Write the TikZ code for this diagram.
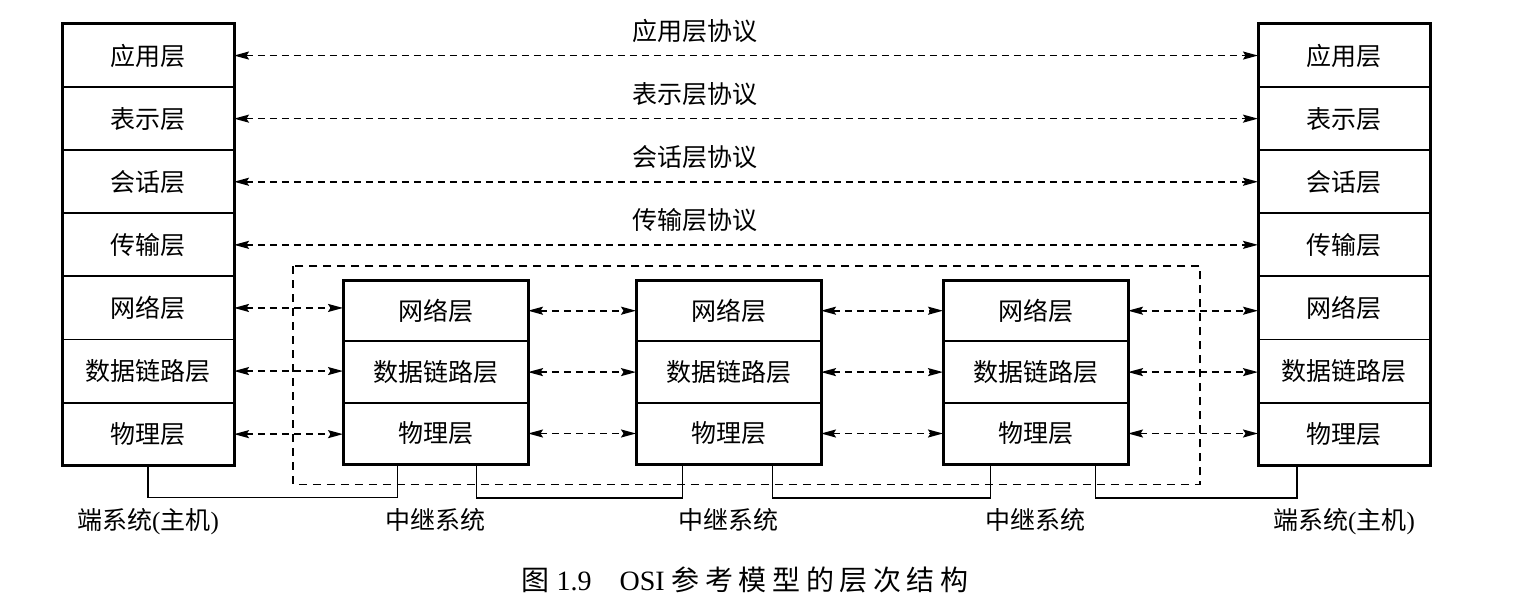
\documentclass[tikz,border=0pt]{standalone}
\usepackage{fontspec}
\setmainfont{Liberation Serif}
\newfontfamily\cjk{Noto Sans CJK SC}
\newfontfamily\cjkcap[LetterSpace=20]{Noto Sans CJK SC}
\usepackage{tikz}
\usetikzlibrary{positioning}
\usetikzlibrary{arrows.meta}
\tikzset{
  host layer/.style={draw,line width=1.9pt,outer sep=0pt,inner sep=0pt,
    minimum width=172pt,minimum height=63.1pt,font=\cjk\fontsize{25}{25}\selectfont},
  relay layer/.style={host layer,minimum width=185pt,minimum height=61.4pt},
  proto/.style={inner sep=0pt,font=\cjk\fontsize{25}{25}\selectfont},
  sysname/.style={inner sep=0pt,font=\fontsize{25}{25}\selectfont}
}
\begin{document}
\begin{tikzpicture}[x=1pt,y=-1pt,>={Stealth[length=15pt,width=8pt,inset=2.5pt]},
    peer/.style={<->,line width=1.7pt,dash pattern=on 7pt off 5pt},
    wire/.style={line width=1.5pt}
    ]
    \useasboundingbox (0,0) rectangle (1515,615);
    % end system on the left
    \node [host layer,anchor=north west] (L1) at (62,24) {应用层};
    \node [host layer,below=0pt of L1] (L2) {表示层};
    \node [host layer,below=0pt of L2] (L3) {会话层};
    \node [host layer,below=0pt of L3] (L4) {传输层};
    \node [host layer,below=0pt of L4] (L5) {网络层};
    \node [host layer,below=0pt of L5] (L6) {数据链路层};
    \node [host layer,below=0pt of L6] (L7) {物理层};
    \draw [line width=3pt] (L1.north west) rectangle (L7.south east);
    % end system on the right
    \node [host layer,anchor=north west] (R1) at (1258,24) {应用层};
    \node [host layer,below=0pt of R1] (R2) {表示层};
    \node [host layer,below=0pt of R2] (R3) {会话层};
    \node [host layer,below=0pt of R3] (R4) {传输层};
    \node [host layer,below=0pt of R4] (R5) {网络层};
    \node [host layer,below=0pt of R5] (R6) {数据链路层};
    \node [host layer,below=0pt of R6] (R7) {物理层};
    \draw [line width=3pt] (R1.north west) rectangle (R7.south east);
    % relay systems
    \node [relay layer,anchor=north west] (A1) at (343,280) {网络层};
    \node [relay layer,below=0pt of A1] (A2) {数据链路层};
    \node [relay layer,below=0pt of A2] (A3) {物理层};
    \draw [line width=3pt] (A1.north west) rectangle (A3.south east);
    \node [relay layer,anchor=north west] (B1) at (636,280) {网络层};
    \node [relay layer,below=0pt of B1] (B2) {数据链路层};
    \node [relay layer,below=0pt of B2] (B3) {物理层};
    \draw [line width=3pt] (B1.north west) rectangle (B3.south east);
    \node [relay layer,anchor=north west] (C1) at (943,280) {网络层};
    \node [relay layer,below=0pt of C1] (C2) {数据链路层};
    \node [relay layer,below=0pt of C2] (C3) {物理层};
    \draw [line width=3pt] (C1.north west) rectangle (C3.south east);
    \draw [line width=1.4pt,dash pattern=on 8pt off 6pt]
      ([shift={(-50pt,14pt)}]A1.north west) rectangle ([shift={(72pt,-20pt)}]C3.south east);
    % peer protocols
    \draw [peer] (L1.east) -- (R1.west) node [proto,pos=0.45,above=12pt] (P1) {应用层协议};
    \draw [peer] (L2.east) -- (R2.west) node [proto,pos=0.45,above=12pt] (P2) {表示层协议};
    \draw [peer] (L3.east) -- (R3.west) node [proto,pos=0.45,above=12pt] (P3) {会话层协议};
    \draw [peer] (L4.east) -- (R4.west) node [proto,pos=0.45,above=12pt] (P4) {传输层协议};
    \draw [peer] (L5.east) -- (L5.east -| A1.west);
    \draw [peer] (L6.east) -- (L6.east -| A2.west);
    \draw [peer] (L7.east) -- (L7.east -| A3.west);
    \draw [peer] (A1.east) -- (A1.east -| B1.west);
    \draw [peer] (A2.east) -- (A2.east -| B2.west);
    \draw [peer] (A3.east) -- (A3.east -| B3.west);
    \draw [peer] (B1.east) -- (B1.east -| C1.west);
    \draw [peer] (B2.east) -- (B2.east -| C2.west);
    \draw [peer] (B3.east) -- (B3.east -| C3.west);
    \draw [peer] (C1.east) -- (C1.east -| R5.west);
    \draw [peer] (C2.east) -- (C2.east -| R6.west);
    \draw [peer] (C3.east) -- (C3.east -| R7.west);
    % physical links
    \draw [wire] (L7.south) -- ++(0,32) -| ([xshift=-38pt]A3.south);
    \draw [wire] ([xshift=41pt]A3.south) -- ++(0,34) -| ([xshift=-46pt]B3.south);
    \draw [wire] ([xshift=44pt]B3.south) -- ++(0,34) -| ([xshift=-45pt]C3.south);
    \draw [wire] ([xshift=60pt]C3.south) -- ++(0,34) -| ([xshift=-47pt]R7.south);
    % system names
    \node [sysname,below=42pt of L7] (Lname) {{\cjk 端系统}({\cjk 主机})};
    \node [sysname,below=44pt of A3] (Aname) {\cjk 中继系统};
    \node [sysname,below=44pt of B3] (Bname) {\cjk 中继系统};
    \node [sysname,below=44pt of C3] (Cname) {\cjk 中继系统};
    \node [sysname,below=42pt of R7] (Rname) {{\cjk 端系统}({\cjk 主机})};
    \node [inner sep=0pt,font=\fontsize{28}{28}\selectfont] (caption) at (745,580)
      {{\cjkcap 图} 1.9\hspace{1em}OSI {\cjkcap 参考模型的层次结构}};
\end{tikzpicture}
\end{document}
